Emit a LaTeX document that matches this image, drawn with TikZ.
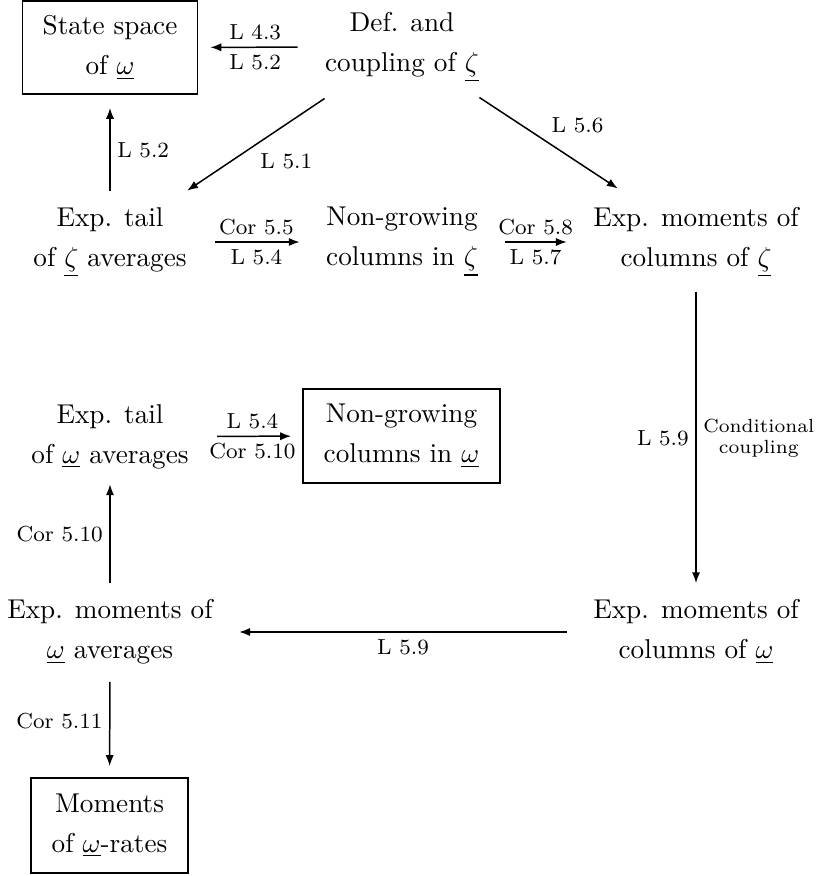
\documentclass[tikz,border=0pt]{standalone}
\usetikzlibrary{arrows.meta}
\newlength\pxu
\setlength\pxu{0.3675pt}
\begin{document}
\begin{tikzpicture}[x=\pxu, y=-\pxu,
  txt/.style={inner sep=0pt, align=center, font=\fontsize{10}{14.7}\selectfont},
  boxn/.style={draw, line width=0.65pt, inner sep=0pt, align=center, font=\fontsize{10}{14.7}\selectfont},
  lbl/.style={font=\footnotesize, inner sep=2.4pt},
  slbl/.style={font=\scriptsize, align=center, inner sep=2.4pt},
  arr/.style={-{Latex[length=4pt,width=3pt]}, line width=0.55pt}]
\useasboundingbox (0,0) rectangle (817,876);

% nodes
\node[boxn, minimum width=175\pxu, minimum height=93\pxu] (state) at (110,47.5) {State space\\of $\underline{\omega}$};
\node[txt] (def) at (402,47) {Def. and\\coupling of $\underline{\zeta}$};
\node[txt] (tz) at (110,242) {Exp. tail\\of $\underline{\zeta}$ averages};
\node[txt] (ngz) at (402,242) {Non-growing\\columns in $\underline{\zeta}$};
\node[txt] (mz) at (696,242) {Exp. moments of\\columns of $\underline{\zeta}$};
\node[txt] (tw) at (110,436.5) {Exp. tail\\of $\underline{\omega}$ averages};
\node[boxn, minimum width=197\pxu, minimum height=94\pxu] (ngw) at (401.5,436) {Non-growing\\columns in $\underline{\omega}$};
\node[txt] (mw) at (696,632) {Exp. moments of\\columns of $\underline{\omega}$};
\node[txt] (ma) at (110,632) {Exp. moments of\\$\underline{\omega}$ averages};
\node[boxn, minimum width=157\pxu, minimum height=95\pxu] (mom) at (109.5,825.5) {Moments\\of $\underline{\omega}$-rates};

% connectors
\draw[arr, shorten <=27\pxu, shorten >=12\pxu] (def) -- node[lbl, above, pos=0.55] {L 4.3} node[lbl, below, pos=0.55] {L 5.2} (state);
\draw[arr, shorten <=16\pxu, shorten >=13\pxu] (tz) -- node[lbl, right] {L 5.2} (state);
\draw[arr] ([yshift=-16\pxu]def.south west) -- node[lbl, below right, pos=0.52] {L 5.1} ([yshift=16\pxu]tz.north east);
\draw[arr] ([yshift=-15\pxu]def.south east) -- node[lbl, above right, pos=0.47] {L 5.6} ([xshift=25\pxu, yshift=18\pxu]mz.north west);
\draw[arr, shorten <=28\pxu, shorten >=26\pxu] (tz) -- node[lbl, above] {Cor 5.5} node[lbl, below] {L 5.4} (ngz);
\draw[arr, shorten <=27\pxu, shorten >=26\pxu] (ngz) -- node[lbl, above] {Cor 5.8} node[lbl, below] {L 5.7} (mz);
\draw[arr, shorten <=14\pxu, shorten >=16\pxu] (mz) -- node[lbl, left] {L 5.9} node[slbl, right] {Conditional\\coupling} (mw);
\draw[arr, shorten <=26\pxu, shorten >=26\pxu] (mw) -- node[lbl, below] {L 5.9} (ma);
\draw[arr, shorten <=28\pxu, shorten >=11\pxu] (tw) -- node[lbl, above, pos=0.56] {L 5.4} node[lbl, below, pos=0.56] {Cor 5.10} (ngw);
\draw[arr, shorten <=16\pxu, shorten >=15\pxu] (ma) -- node[lbl, left] {Cor 5.10} (tw);
\draw[arr, shorten <=17\pxu, shorten >=11\pxu] (ma) -- node[lbl, left] {Cor 5.11} (mom);
\end{tikzpicture}
\end{document}
